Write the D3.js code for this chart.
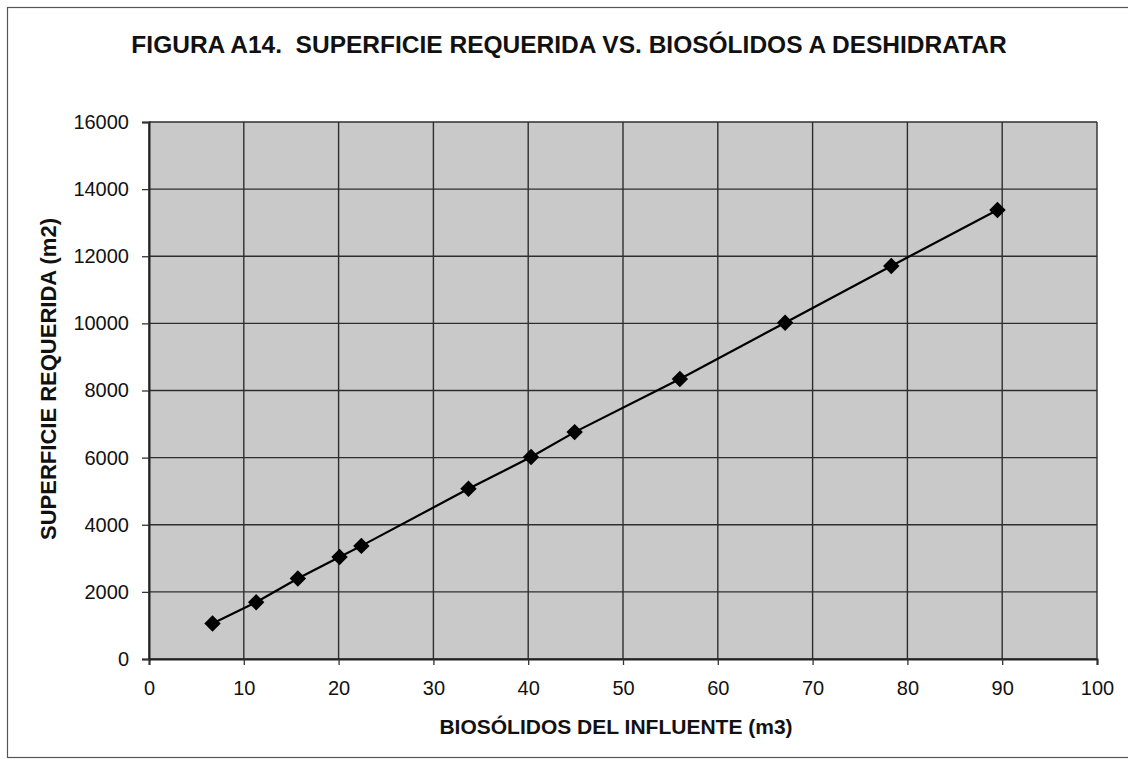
<!DOCTYPE html>
<html>
<head>
<meta charset="utf-8">
<script src="https://d3js.org/d3.v7.min.js"></script>
<style>
  html, body { margin: 0; padding: 0; background: #fff; }
  svg { display: block; }
</style>
</head>
<body>
<script>
// Biosolids volume (m3) against required drying surface (m2)
const biosolidos = [6.7, 11.3, 15.7, 20.1, 22.4, 33.7, 40.3, 44.9, 56.0, 67.1, 78.3, 89.5];
const superficie = [1060, 1690, 2400, 3040, 3370, 5070, 6020, 6760, 8340, 10020, 11710, 13380];
const xTicks = [0, 10, 20, 30, 40, 50, 60, 70, 80, 90, 100];
const yTicks = [0, 2000, 4000, 6000, 8000, 10000, 12000, 14000, 16000];

const W = 1128, H = 764;
const plot = { left: 149, right: 1097, top: 122, bottom: 659 };

const svg = d3.select("body").append("svg")
  .attr("width", W).attr("height", H);

// outer chart frame
svg.append("rect")
  .attr("x", 7.5).attr("y", 7.5)
  .attr("width", W + 20).attr("height", 750)
  .attr("fill", "#fff").attr("stroke", "#555").attr("stroke-width", 1.2);

const x = d3.scaleLinear().domain([0, 100]).range([plot.left, plot.right]);
const y = d3.scaleLinear().domain([0, 16000]).range([plot.bottom, plot.top]);

// plot area
svg.append("rect")
  .attr("x", plot.left).attr("y", plot.top)
  .attr("width", plot.right - plot.left).attr("height", plot.bottom - plot.top)
  .attr("fill", "#c9c9c9");

// grid
const grid = svg.append("g").attr("stroke", "#2e2e2e").attr("stroke-width", 1.4);
grid.selectAll("line.v").data(xTicks).join("line")
  .attr("x1", d => x(d)).attr("x2", d => x(d))
  .attr("y1", plot.top).attr("y2", plot.bottom);
grid.selectAll("line.h").data(yTicks).join("line")
  .attr("x1", plot.left).attr("x2", plot.right)
  .attr("y1", d => y(d)).attr("y2", d => y(d));

// axes
const font = "'Liberation Sans', Arial, sans-serif";
const xAxis = svg.append("g")
  .attr("transform", `translate(0,${plot.bottom})`)
  .call(d3.axisBottom(x).tickValues(xTicks).tickSize(6).tickPadding(8).tickFormat(d3.format("d")));
const yAxis = svg.append("g")
  .attr("transform", `translate(${plot.left},0)`)
  .call(d3.axisLeft(y).tickValues(yTicks).tickSize(7).tickPadding(13).tickFormat(d3.format("d")));
[xAxis, yAxis].forEach(a => {
  a.select(".domain").attr("stroke", "#222").attr("stroke-width", 2);
  a.selectAll(".tick line").attr("stroke", "#333").attr("stroke-width", 1.3);
  a.selectAll(".tick text").attr("fill", "#111")
    .style("font-family", font).style("font-size", "20px");
});
xAxis.selectAll(".tick text").attr("y", 36).attr("dy", null);

// series line and markers
const line = d3.line().x((d, i) => x(biosolidos[i])).y(d => y(d));
svg.append("path")
  .datum(superficie)
  .attr("d", line)
  .attr("fill", "none").attr("stroke", "#000").attr("stroke-width", 2.2);

svg.append("g").selectAll("path").data(superficie).join("path")
  .attr("d", d3.symbol(d3.symbolSquare, 135)())
  .attr("transform", (d, i) => `translate(${x(biosolidos[i])},${y(d)}) rotate(45)`)
  .attr("fill", "#000");

// titles
svg.append("text")
  .attr("x", 569).attr("y", 53)
  .attr("text-anchor", "middle")
  .style("font-family", font).style("font-weight", "bold").style("font-size", "24.5px")
  .attr("fill", "#111")
  .attr("xml:space", "preserve")
  .text("FIGURA A14.  SUPERFICIE REQUERIDA VS. BIOSÓLIDOS A DESHIDRATAR");

svg.append("text")
  .attr("x", 616).attr("y", 734)
  .attr("text-anchor", "middle")
  .style("font-family", font).style("font-weight", "bold").style("font-size", "21px")
  .attr("fill", "#111")
  .text("BIOSÓLIDOS DEL INFLUENTE (m3)");

svg.append("text")
  .attr("transform", `translate(56,379) rotate(-90)`)
  .attr("text-anchor", "middle")
  .style("font-family", font).style("font-weight", "bold").style("font-size", "22px")
  .attr("fill", "#111")
  .text("SUPERFICIE REQUERIDA (m2)");
</script>
</body>
</html>
